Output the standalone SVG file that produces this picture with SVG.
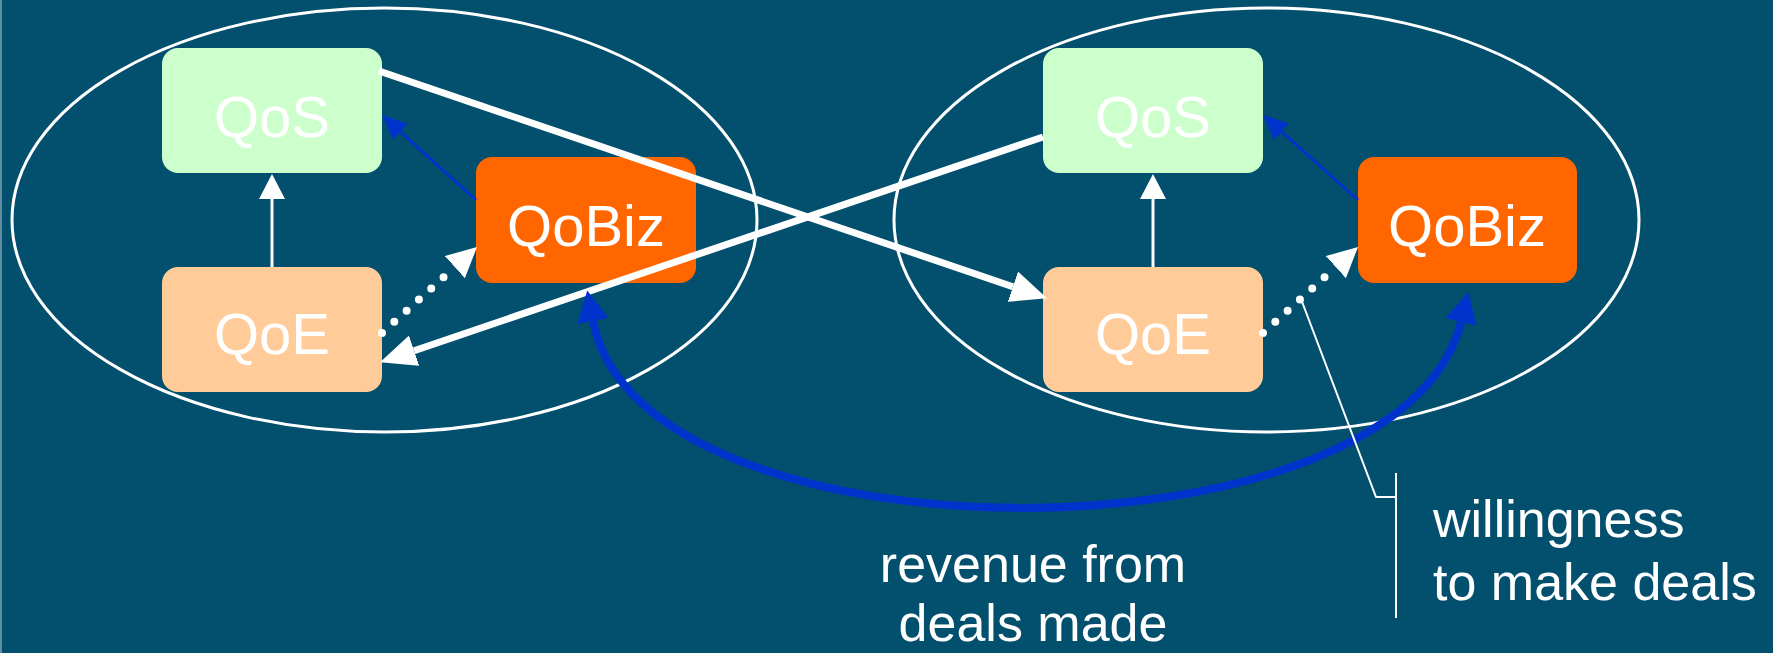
<svg xmlns="http://www.w3.org/2000/svg" width="1773" height="653" viewBox="0 0 1773 653">
  <style>
    .lbl { font-family: "Liberation Sans", Arial, sans-serif; fill: #ffffff; }
    .node { font-size: 58px; text-anchor: middle; }
    .note { font-size: 52px; }
    .ell { fill: none; stroke: #ffffff; stroke-width: 3; }
    .thick { fill: none; stroke: #ffffff; stroke-width: 7; }
    .thin { fill: none; stroke: #ffffff; stroke-width: 3; }
    .blue { fill: none; stroke: #0033cc; stroke-width: 3; }
    .bluecurve { fill: none; stroke: #0033cc; stroke-width: 8; }
    .dots { fill: none; stroke: #ffffff; stroke-width: 8; stroke-linecap: round; stroke-dasharray: 0 16.6; }
    .callout { fill: none; stroke: #ffffff; stroke-width: 2; }
  </style>
  <defs>
    <marker id="bigW" markerUnits="userSpaceOnUse" markerWidth="36" markerHeight="32" refX="0" refY="16" orient="auto">
      <path d="M0,0 L36,16 L0,32 z" fill="#ffffff"/>
    </marker>
    <marker id="midW" markerUnits="userSpaceOnUse" markerWidth="30" markerHeight="30" refX="0" refY="15" orient="auto">
      <path d="M0,0 L30,15 L0,30 z" fill="#ffffff"/>
    </marker>
    <marker id="smW" markerUnits="userSpaceOnUse" markerWidth="25" markerHeight="26" refX="0" refY="13" orient="auto">
      <path d="M0,0 L25,13 L0,26 z" fill="#ffffff"/>
    </marker>
    <marker id="smB" markerUnits="userSpaceOnUse" markerWidth="25" markerHeight="22" refX="0" refY="11" orient="auto">
      <path d="M0,0 L25,11 L0,22 z" fill="#0033cc"/>
    </marker>
    <marker id="bigB" markerUnits="userSpaceOnUse" markerWidth="31" markerHeight="32" refX="0" refY="16" orient="auto-start-reverse">
      <path d="M0,0 L31,16 L0,32 z" fill="#0033cc"/>
    </marker>
  </defs>

  <rect x="0" y="0" width="1773" height="653" fill="#02506e"/>
  <rect x="0" y="0" width="2" height="653" fill="#5f8ea3"/>

  <g id="groups">
    <ellipse class="ell" cx="384.5" cy="220" rx="372.5" ry="212"/>
    <ellipse class="ell" cx="1266.5" cy="220" rx="372.5" ry="212"/>
  </g>

  <g id="left-qos">
    <rect x="162" y="48" width="220" height="125" rx="16" fill="#ccffcc"/>
    <text class="lbl node" x="272" y="137">QoS</text>
  </g>
  <g id="left-qoe">
    <rect x="162" y="267" width="220" height="125" rx="16" fill="#ffcc99"/>
    <text class="lbl node" x="272" y="354">QoE</text>
  </g>
  <g id="left-qobiz">
    <rect x="476" y="157" width="220" height="126" rx="16" fill="#ff6600"/>
    <text class="lbl node" x="586" y="246">QoBiz</text>
  </g>
  <g id="right-qos">
    <rect x="1043" y="48" width="220" height="125" rx="16" fill="#ccffcc"/>
    <text class="lbl node" x="1153" y="137">QoS</text>
  </g>
  <g id="right-qoe">
    <rect x="1043" y="267" width="220" height="125" rx="16" fill="#ffcc99"/>
    <text class="lbl node" x="1153" y="354">QoE</text>
  </g>
  <g id="right-qobiz">
    <rect x="1358" y="157" width="219" height="126" rx="16" fill="#ff6600"/>
    <text class="lbl node" x="1467" y="246">QoBiz</text>
  </g>

  <g id="connectors">
    <line class="thin" x1="272" y1="267" x2="272" y2="199" marker-end="url(#smW)"/>
    <line class="thin" x1="1153" y1="267" x2="1153" y2="199" marker-end="url(#smW)"/>
    <line class="blue" x1="476" y1="200" x2="400.5" y2="131.8" marker-end="url(#smB)"/>
    <line class="blue" x1="1358" y1="200" x2="1281.6" y2="131.7" marker-end="url(#smB)"/>
    <line class="dots" x1="382" y1="333" x2="454.8" y2="267.1" marker-end="url(#midW)"/>
    <line class="dots" x1="1263" y1="333" x2="1335.8" y2="267.1" marker-end="url(#midW)"/>
    <line class="thick" x1="379" y1="71" x2="1012.9" y2="286.7" marker-end="url(#bigW)"/>
    <line class="thick" x1="1043" y1="137" x2="414.1" y2="350.7" marker-end="url(#bigW)"/>
    <path class="bluecurve" d="M593,321 C640,570 1400,570 1461,322" marker-start="url(#bigB)" marker-end="url(#bigB)"/>
    <polyline class="callout" points="1301,299 1376,497 1396,497"/>
    <line class="callout" x1="1396" y1="473" x2="1396" y2="618"/>
  </g>

  <g id="labels">
    <text class="lbl note" x="1433" y="537">willingness</text>
    <text class="lbl note" x="1433" y="600">to make deals</text>
    <text class="lbl note" x="1033" y="582" text-anchor="middle">revenue from</text>
    <text class="lbl note" x="1033" y="641" text-anchor="middle">deals made</text>
  </g>
</svg>
